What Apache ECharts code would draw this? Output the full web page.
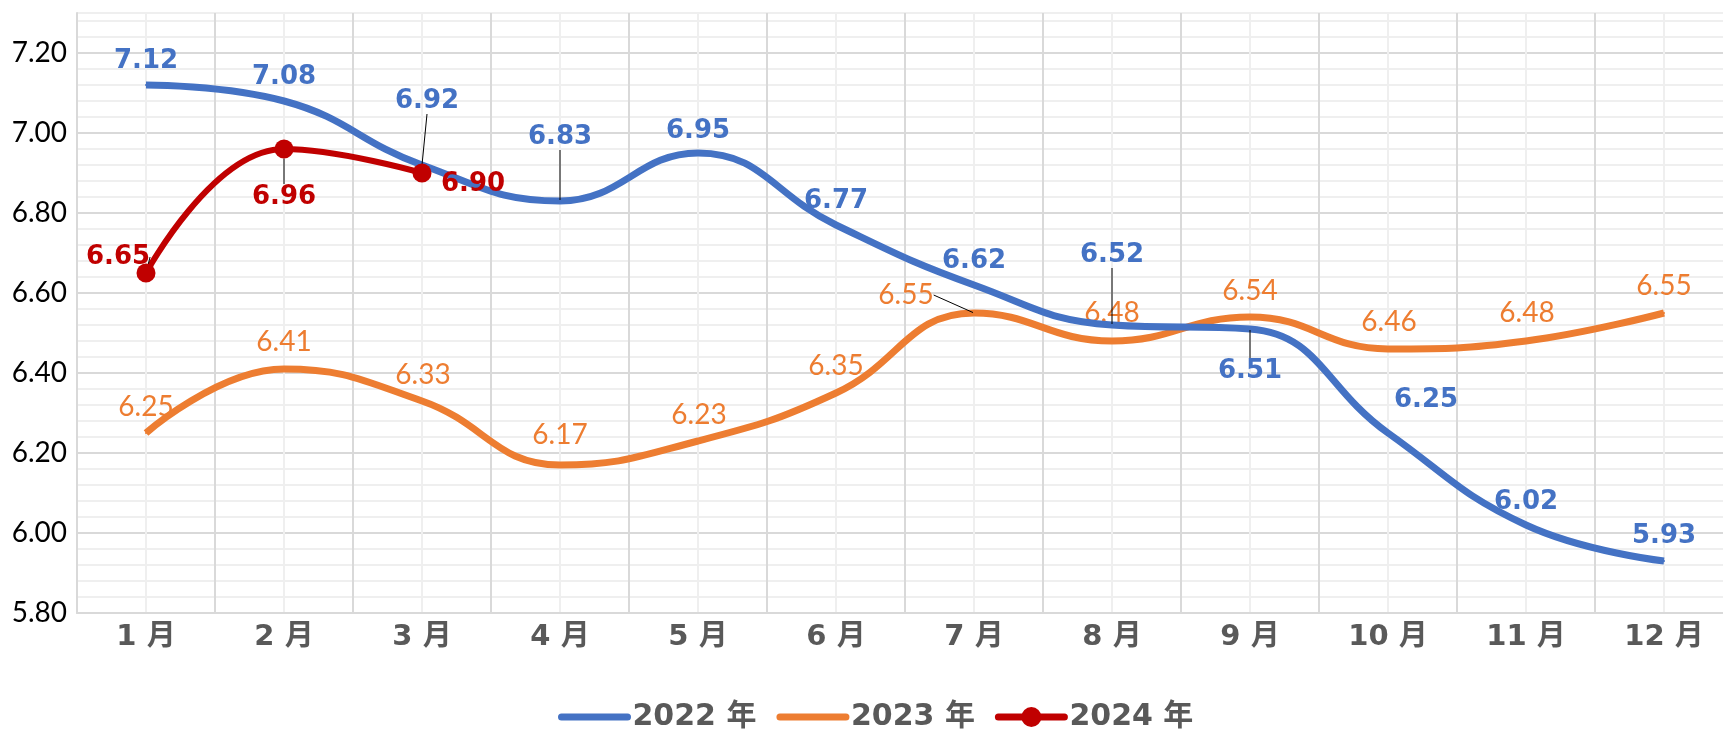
<!DOCTYPE html>
<html>
<head>
<meta charset="utf-8">
<script src="https://cdn.jsdelivr.net/npm/echarts@6/dist/echarts.min.js"></script>
<style>
html, body { margin: 0; padding: 0; background: #fff; }
#main { width: 1723px; height: 730px; }
</style>
</head>
<body>
<div id="main"></div>
<script>
// data
var months = ['1 月', '2 月', '3 月', '4 月', '5 月', '6 月', '7 月', '8 月', '9 月', '10 月', '11 月', '12 月'];
var seriesNames = ['2022 年', '2023 年', '2024 年'];
var data2022 = [7.12, 7.08, 6.92, 6.83, 6.95, 6.77, 6.62, 6.52, 6.51, 6.25, 6.02, 5.93];
var data2023 = [6.25, 6.41, 6.33, 6.17, 6.23, 6.35, 6.55, 6.48, 6.54, 6.46, 6.48, 6.55];
var data2024 = [6.65, 6.96, 6.90];
var yTicks = [5.80, 6.00, 6.20, 6.40, 6.60, 6.80, 7.00, 7.20];

// label offsets (px) from each point, like moved excel labels
var off2022 = [[0,-24],[0,-24],[5,-64],[0,-64],[0,-22],[0,-24],[0,-24],[0,-70],[0,42],[38,-33],[0,-23],[0,-25]];
var off2023 = [[0,-26],[0,-27],[1,-26],[0,-30],[1,-26],[0,-27],[-68,-18],[0,-28],[0,-26],[1,-27],[1,-28],[0,-27]];
var off2024 = [[-28,-16],[0,48],[51,11]];
var leader2022 = [2, 3, 7, 8];
var leader2023 = [6];
var leader2024 = [0, 1];

var blue = '#4472C4', orange = '#ED7D31', red = '#C00000';

function items(vals, leaders) {
    return vals.map(function (v, i) {
        var it = { value: v };
        if (leaders.indexOf(i) >= 0) {
            it.labelLine = { show: true };
        }
        return it;
    });
}

var myChart = echarts.init(document.getElementById('main'));
var option = {
    animation: false,
    grid: { left: 77, width: 1656, top: 13, bottom: 117, outerBoundsMode: 'none' },
    legend: {
        left: 553,
        top: 697,
        itemWidth: 66,
        itemHeight: 25,
        itemGap: 20,
        lineStyle: { width: 7, cap: 'round' },
        textStyle: { fontFamily: "'DejaVu Sans', 'Noto Sans CJK SC'", fontWeight: 'bold', fontSize: 30, color: '#595959' },
        data: [
            { name: seriesNames[0], itemStyle: { opacity: 0 } },
            { name: seriesNames[1], itemStyle: { opacity: 0 } },
            { name: seriesNames[2] }
        ]
    },
    xAxis: [
        {
            type: 'category',
            data: months,
            boundaryGap: true,
            axisLine: { lineStyle: { color: '#d9d9d9', width: 2 } },
            axisTick: { show: false },
            splitLine: { show: false },
            axisLabel: {
                margin: 10,
                fontFamily: "'DejaVu Sans', 'Noto Sans CJK SC'",
                fontWeight: 'bold',
                fontSize: 29,
                color: '#595959'
            }
        },
        {
            // only for vertical gridlines (boundaries + centers)
            type: 'value',
            min: 0,
            max: 24,
            interval: 1,
            position: 'top',
            axisLine: { show: false },
            axisTick: { show: false },
            axisLabel: { show: false },
            splitLine: { show: true, lineStyle: { color: ['#d9d9d9', '#efefef'], width: 2 } }
        }
    ],
    yAxis: {
        type: 'value',
        min: 5.8,
        max: 7.3,
        interval: 0.04,
        axisLine: { show: true, lineStyle: { color: '#d9d9d9', width: 2 } },
        axisTick: { show: false },
        axisLabel: {
            margin: 10,
            fontFamily: 'Lato',
            fontSize: 28,
            color: '#000',
            formatter: function (v) {
                var n = Math.round(v * 100);
                for (var i = 0; i < yTicks.length; i++) {
                    if (Math.round(yTicks[i] * 100) === n) return yTicks[i].toFixed(2);
                }
                return '';
            }
        },
        splitLine: {
            show: true,
            lineStyle: { color: ['#d9d9d9', '#efefef', '#efefef', '#efefef', '#efefef'], width: 2 }
        }
    },
    series: [
        {
            name: seriesNames[0],
            type: 'line',
            smooth: 0.45,
            symbol: 'circle',
            symbolSize: 2,
            itemStyle: { color: blue },
            lineStyle: { color: blue, width: 7 },
            data: items(data2022, leader2022),
            label: {
                show: true, position: 'inside',
                fontFamily: 'DejaVu Sans', fontWeight: 'bold', fontSize: 26, color: blue,
                formatter: function (p) { return p.value.toFixed(2); }
            },
            labelLine: { show: false, lineStyle: { color: '#000', width: 1 } },
            labelLayout: function (p) { var o = off2022[p.dataIndex]; return { dx: o[0], dy: o[1] }; },
            z: 3
        },
        {
            name: seriesNames[1],
            type: 'line',
            smooth: 0.45,
            symbol: 'circle',
            symbolSize: 2,
            itemStyle: { color: orange },
            lineStyle: { color: orange, width: 7 },
            data: items(data2023, leader2023),
            label: {
                show: true, position: 'inside',
                fontFamily: 'Lato', fontSize: 28, color: orange,
                formatter: function (p) { return p.value.toFixed(2); }
            },
            labelLine: { show: false, lineStyle: { color: '#000', width: 1 } },
            labelLayout: function (p) { var o = off2023[p.dataIndex]; return { dx: o[0], dy: o[1] }; },
            z: 2
        },
        {
            name: seriesNames[2],
            type: 'line',
            smooth: 0.45,
            symbol: 'circle',
            symbolSize: 19,
            itemStyle: { color: red },
            lineStyle: { color: red, width: 6 },
            data: items(data2024, leader2024),
            label: {
                show: true, position: 'inside',
                fontFamily: 'DejaVu Sans', fontWeight: 'bold', fontSize: 26, color: red,
                formatter: function (p) { return p.value.toFixed(2); }
            },
            labelLine: { show: false, lineStyle: { color: '#000', width: 1 } },
            labelLayout: function (p) { var o = off2024[p.dataIndex]; return { dx: o[0], dy: o[1] }; },
            z: 4
        }
    ]
};
if (option && typeof option === "object") {
    myChart.setOption(option, true);
}
</script>
</body>
</html>
